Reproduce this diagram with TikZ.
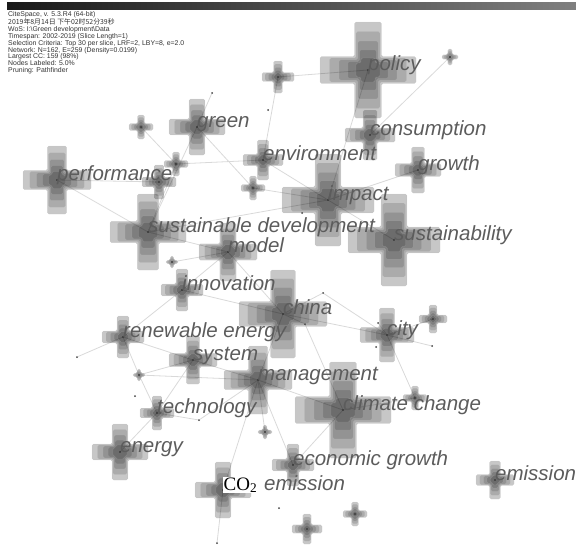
\documentclass[tikz,border=0pt]{standalone}
\usepackage{fontspec}
\setmainfont{Liberation Sans}
\newfontfamily\kwfont{Liberation Sans}
\newfontfamily\cofont{Liberation Serif}
\newfontfamily\cjkfont{Noto Sans CJK SC}
\usetikzlibrary{positioning, calc}

\begin{document}
\begin{tikzpicture}[x=1pt, y=-1pt]
    \tikzset{
        ringbox/.style={fill=black, draw=black!30, draw opacity=0.35, line width=0.4pt, rounded corners=1.5pt},
        pics/kwcross/.style={code={
            \foreach \f/\g/\o in {1/1/0.22, 0.8/0.88/0.14, 0.6/0.76/0.14, 0.42/0.64/0.14, 0.25/0.52/0.14}{
                \pgfmathsetmacro\armL{#1*\f}
                \pgfmathsetmacro\armW{#1*0.28*\g}
                \path[ringbox, fill opacity=\o] (-\armL,-\armW) -- (-\armW,-\armW) -- (-\armW,-\armL) -- (\armW,-\armL)
                    -- (\armW,-\armW) -- (\armL,-\armW) -- (\armL,\armW) -- (\armW,\armW) -- (\armW,\armL)
                    -- (-\armW,\armL) -- (-\armW,\armW) -- (-\armL,\armW) -- cycle;
            }
            \fill[black!85] (0,0) circle (0.9);
        }},
        kwlabel/.style={anchor=base west, inner sep=0pt, text=black!64, font=\kwfont\itshape\fontsize{20.5}{21}\selectfont},
        dotnode/.style={circle, fill=black!75, inner sep=0pt, minimum size=2pt},
        link/.style={draw=black!15, line width=0.8pt}
    }

    \useasboundingbox (0,0) rectangle (576,546);
    \shade[left color=black!90, right color=black!50] (7,2) rectangle (576,9);

    \node[anchor=north west, align=left, inner sep=0pt, text=black!80, font=\fontsize{6.9}{6.9}\selectfont] (Info) at (8,11)
        {CiteSpace, v. 5.3.R4 (64-bit)\\
         {\cjkfont 2019年8月14日 下午02时52分39秒}\\
         WoS: I:\textbackslash Green development\textbackslash Data\\
         Timespan: 2002-2019 (Slice Length=1)\\
         Selection Criteria: Top 30 per slice, LRF=2, LBY=8, e=2.0\\
         Network: N=162, E=259 (Density=0.0199)\\
         Largest CC: 159 (98\%)\\
         Nodes Labeled: 5.0\%\\
         Pruning: Pathfinder};

    % keyword positions
    \coordinate (Policy) at (368,70);
    \coordinate (Consumption) at (370,135);
    \coordinate (P1) at (450,57);
    \coordinate (TopCross) at (278,77);
    \coordinate (Green) at (197,127);
    \coordinate (SmallA) at (141,127);
    \coordinate (SmallB) at (176,164);
    \coordinate (Performance) at (57,180);
    \coordinate (SmallC) at (159,182);
    \coordinate (Environment) at (263,160);
    \coordinate (SmallD) at (253,188);
    \coordinate (Impact) at (328,200);
    \coordinate (Growth) at (418,170);
    \coordinate (Sustainability) at (394,240);
    \coordinate (SustDev) at (148,232);
    \coordinate (Model) at (228,252);
    \coordinate (SmallE) at (172,262);
    \coordinate (Innovation) at (182,290);
    \coordinate (China) at (283,314);
    \coordinate (Renewable) at (123,337);
    \coordinate (System) at (193,360);
    \coordinate (DotF) at (139,375);
    \coordinate (Management) at (258,380);
    \coordinate (Technology) at (157,413);
    \coordinate (SmallG) at (265,432);
    \coordinate (City) at (387,335);
    \coordinate (SmallH) at (433,319);
    \coordinate (ClimateChange) at (343,410);
    \coordinate (SmallI) at (415,398);
    \coordinate (Emission) at (495,480);
    \coordinate (Energy) at (120,452);
    \coordinate (CO2) at (223,490);
    \coordinate (EconGrowth) at (293,465);
    \coordinate (SmallJ) at (307,529);
    \coordinate (SmallK) at (355,514);

    \node[dotnode] (D1) at (212,93) {};
    \node[dotnode] (D2) at (268,110) {};
    \node[dotnode] (D3) at (323,293) {};
    \node[dotnode] (D4) at (305,324) {};
    \node[dotnode] (D5) at (378,323) {};
    \node[dotnode] (D6) at (376,347) {};
    \node[dotnode] (D7) at (432,346) {};
    \node[dotnode] (D8) at (199,420) {};
    \node[dotnode] (D9) at (135,396) {};
    \node[dotnode] (D10) at (279,508) {};
    \node[dotnode] (D11) at (217,543) {};
    \node[dotnode] (D12) at (77,357) {};
    \node[dotnode] (D13) at (302,213) {};

    \path[link] (Consumption) -- (P1);
    \path[link] (Policy) -- (Impact);
    \path[link] (Policy) -- (TopCross);
    \path[link] (TopCross) -- (Environment);
    \path[link] (Green) -- (D1);
    \path[link] (Green) -- (SmallD);
    \path[link] (Green) -- (SustDev);
    \path[link] (SmallA) -- (SmallB);
    \path[link] (SmallB) -- (SustDev);
    \path[link] (SmallB) -- (Environment);
    \path[link] (Performance) -- (SustDev);
    \path[link] (Performance) -- (SmallC);
    \path[link] (SustDev) -- (Impact);
    \path[link] (SustDev) -- (Model);
    \path[link] (Environment) -- (Impact);
    \path[link] (SmallD) -- (Impact);
    \path[link] (Impact) -- (Growth);
    \path[link] (Impact) -- (Sustainability);
    \path[link] (Model) -- (China);
    \path[link] (Model) -- (Innovation);
    \path[link] (Model) -- (SmallE);
    \path[link] (Innovation) -- (Renewable);
    \path[link] (Innovation) -- (China);
    \path[link] (China) -- (D3);
    \path[link] (D3) -- (City);
    \path[link] (China) -- (City);
    \path[link] (China) -- (D4);
    \path[link] (D4) -- (ClimateChange);
    \path[link] (China) -- (Management);
    \path[link] (Renewable) -- (D12);
    \path[link] (Renewable) -- (DotF);
    \path[link] (Renewable) -- (System);
    \path[link] (DotF) -- (System);
    \path[link] (DotF) -- (Technology);
    \path[link] (DotF) -- (Management);
    \path[link] (System) -- (Management);
    \path[link] (System) -- (Technology);
    \path[link] (Technology) -- (Energy);
    \path[link] (Technology) -- (D8);
    \path[link] (D8) -- (Management);
    \path[link] (Management) -- (ClimateChange);
    \path[link] (Management) -- (EconGrowth);
    \path[link] (Management) -- (SmallG);
    \path[link] (CO2) -- (Management);
    \path[link] (CO2) -- (D11);
    \path[link] (City) -- (SmallI);
    \path[link] (City) -- (SmallH);
    \path[link] (City) -- (D7);
    \path[link] (City) -- (D5);
    \path[link] (ClimateChange) -- (SmallI);
    \path[link] (EconGrowth) -- (ClimateChange);

    \pic at (Policy) {kwcross=48};
    \pic at (Consumption) {kwcross=25};
    \pic at (P1) {kwcross=8};
    \pic at (TopCross) {kwcross=16};
    \pic at (Green) {kwcross=28};
    \pic at (SmallA) {kwcross=12};
    \pic at (SmallB) {kwcross=12};
    \pic at (Performance) {kwcross=34};
    \pic at (SmallC) {kwcross=17};
    \pic at (Environment) {kwcross=20};
    \pic at (SmallD) {kwcross=12};
    \pic at (Impact) {kwcross=46};
    \pic at (Growth) {kwcross=23};
    \pic at (Sustainability) {kwcross=46};
    \pic at (SustDev) {kwcross=38};
    \pic at (Model) {kwcross=29};
    \pic at (SmallE) {kwcross=6};
    \pic at (Innovation) {kwcross=21};
    \pic at (China) {kwcross=44};
    \pic at (Renewable) {kwcross=21};
    \pic at (System) {kwcross=24};
    \pic at (DotF) {kwcross=6};
    \pic at (Management) {kwcross=34};
    \pic at (Technology) {kwcross=17};
    \pic at (SmallG) {kwcross=7};
    \pic at (City) {kwcross=27};
    \pic at (SmallH) {kwcross=14};
    \pic at (ClimateChange) {kwcross=48};
    \pic at (SmallI) {kwcross=12};
    \pic at (Emission) {kwcross=19};
    \pic at (Energy) {kwcross=28};
    \pic at (CO2) {kwcross=28};
    \pic at (EconGrowth) {kwcross=21};
    \pic at (SmallJ) {kwcross=15};
    \pic at (SmallK) {kwcross=12};

    \node[kwlabel] (PolicyText) at (Policy) {policy};
    \node[kwlabel] (ConsumptionText) at (Consumption) {consumption};
    \node[kwlabel] (GreenText) at (Green) {green};
    \node[kwlabel] (PerformanceText) at (Performance) {performance};
    \node[kwlabel] (EnvironmentText) at (Environment) {environment};
    \node[kwlabel] (ImpactText) at (Impact) {impact};
    \node[kwlabel] (GrowthText) at (Growth) {growth};
    \node[kwlabel] (SustainabilityText) at (Sustainability) {sustainability};
    \node[kwlabel] (SustDevText) at (SustDev) {sustainable development};
    \node[kwlabel] (ModelText) at (Model) {model};
    \node[kwlabel] (InnovationText) at (Innovation) {innovation};
    \node[kwlabel] (ChinaText) at (China) {china};
    \node[kwlabel] (RenewableText) at (Renewable) {renewable energy};
    \node[kwlabel] (SystemText) at (System) {system};
    \node[kwlabel] (ManagementText) at (Management) {management};
    \node[kwlabel] (TechnologyText) at (Technology) {technology};
    \node[kwlabel] (CityText) at (City) {city};
    \node[kwlabel] (ClimateChangeText) at (ClimateChange) {climate change};
    \node[kwlabel] (EmissionText) at (Emission) {emission};
    \node[kwlabel] (EnergyText) at (Energy) {energy};
    \node[kwlabel] (EconGrowthText) at (EconGrowth) {economic growth};
    \node[kwlabel, text=black, fill=white, inner sep=0.5pt, font=\cofont\fontsize{19}{19}\selectfont] (CO2Text) at (CO2) {CO\textsubscript{2}};
    \node[kwlabel, right=6pt of CO2Text.base east, anchor=base west] (CO2EmText) {emission};
\end{tikzpicture}
\end{document}
